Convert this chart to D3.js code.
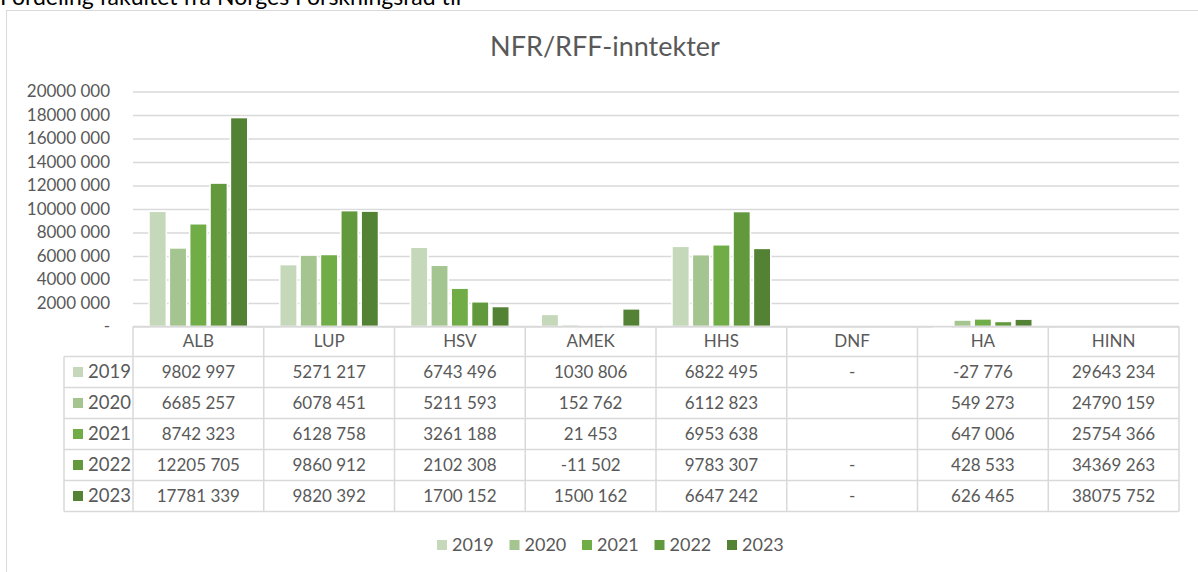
<!DOCTYPE html>
<html>
<head>
<meta charset="utf-8">
<script src="https://cdn.jsdelivr.net/npm/d3@7"></script>
<style>
  body { margin: 0; background: #fff; overflow: hidden; }
  text { font-family: Lato, "Open Sans", sans-serif; fill: #595959; }
</style>
</head>
<body>
<script>
// categories (faculties) and years
var categories = ["ALB", "LUP", "HSV", "AMEK", "HHS", "DNF", "HA", "HINN"];
var years = ["2019", "2020", "2021", "2022", "2023"];
var hiddenBars = ["HINN"]; // in the table, but not drawn as bars

// one array per year, in category order (null = empty cell)
var v2019 = [9802997, 5271217, 6743496, 1030806, 6822495, 0, -27776, 29643234];
var v2020 = [6685257, 6078451, 5211593, 152762, 6112823, null, 549273, 24790159];
var v2021 = [8742323, 6128758, 3261188, 21453, 6953638, null, 647006, 25754366];
var v2022 = [12205705, 9860912, 2102308, -11502, 9783307, 0, 428533, 34369263];
var v2023 = [17781339, 9820392, 1700152, 1500162, 6647242, 0, 626465, 38075752];
var seriesValues = [v2019, v2020, v2021, v2022, v2023];

var yTicks = [0, 2000000, 4000000, 6000000, 8000000, 10000000, 12000000, 14000000, 16000000, 18000000, 20000000];
var colors = ["#c5d8b9", "#a5c590", "#70ad47", "#63993d", "#548235"];

var width = 1198, height = 572;
var plotLeft = 133, plotRight = 1179, plotTop = 91.5, plotBottom = 326.5;
var rowH = 31, headerH = 30;

// number like Excel "# ##0" with only the last group split
function fmt(v) {
  if (v === null) return "";
  if (v === 0) return "-";
  var a = Math.abs(v), s = "";
  if (a >= 1000) s = Math.floor(a / 1000) + " " + String(a % 1000).padStart(3, "0");
  else s = String(a);
  return (v < 0 ? "-" : "") + s;
}

var svg = d3.select("body").append("svg")
  .attr("width", width)
  .attr("height", height);

// text above the chart, cut off at the top
svg.append("text")
  .attr("x", 0).attr("y", 5)
  .style("font-size", "23px")
  .style("fill", "#000")
  .text("Fordeling fakultet fra Norges Forskningsråd til");

// chart border
svg.append("rect")
  .attr("x", 6.5).attr("y", 10.5)
  .attr("width", 1300).attr("height", 700)
  .attr("fill", "none").attr("stroke", "#d9d9d9");

svg.append("text")
  .attr("x", 605).attr("y", 56)
  .attr("text-anchor", "middle")
  .style("font-size", "27px")
  .text("NFR/RFF-inntekter");

var x0 = d3.scaleBand().domain(categories).range([plotLeft, plotRight]);
var x1 = d3.scaleBand().domain(years).range([14.5, x0.bandwidth() - 14.5]);
var y = d3.scaleLinear().domain([0, 20000000]).range([plotBottom, plotTop]);

// gridlines
svg.append("g")
  .attr("transform", "translate(" + plotLeft + ",0)")
  .call(d3.axisLeft(y).tickValues(yTicks).tickSize(-(plotRight - plotLeft)).tickFormat(""))
  .call(function(g) { g.select(".domain").remove(); })
  .selectAll("line").attr("stroke", "#d9d9d9").attr("stroke-width", 1.5);

// y labels
svg.append("g")
  .attr("transform", "translate(110,0)")
  .call(d3.axisLeft(y).tickValues(yTicks).tickSize(0).tickPadding(0).tickFormat(fmt))
  .call(function(g) { g.select(".domain").remove(); })
  .selectAll("text")
  .style("font-size", "17px")
  .style("fill", "#595959");

// bars, with a thin white outline like Excel
years.forEach(function(yr, i) {
  var rows = categories.map(function(c, j) { return {cat: c, value: seriesValues[i][j]}; })
    .filter(function(d) { return hiddenBars.indexOf(d.cat) < 0 && d.value !== null; });
  svg.selectAll(".bar" + yr)
    .data(rows)
    .enter().append("rect")
    .attr("class", "bar" + yr)
    .attr("x", function(d) { return x0(d.cat) + x1(yr) + 1.5; })
    .attr("width", x1.bandwidth() - 3)
    .attr("y", function(d) { return y(Math.max(0, d.value)); })
    .attr("height", function(d) { return Math.abs(y(d.value) - y(0)); })
    .style("fill", colors[i])
    .style("stroke", "#fff")
    .style("stroke-width", 1.5);
});

// data table
var table = svg.append("g");
var tableLeft = 64;
var tableBottom = plotBottom + headerH + rowH * years.length;
var lineColor = "#d9d9d9";

// horizontal lines
table.append("line")
  .attr("x1", plotLeft).attr("x2", plotRight)
  .attr("y1", plotBottom).attr("y2", plotBottom)
  .attr("stroke", lineColor).attr("stroke-width", 1.5);
for (var r = 0; r <= years.length; r++) {
  var ly = plotBottom + headerH + r * rowH;
  table.append("line")
    .attr("x1", tableLeft).attr("x2", plotRight)
    .attr("y1", ly).attr("y2", ly)
    .attr("stroke", lineColor).attr("stroke-width", 1.5);
}
// vertical lines
table.append("line")
  .attr("x1", tableLeft).attr("x2", tableLeft)
  .attr("y1", plotBottom + headerH).attr("y2", tableBottom)
  .attr("stroke", lineColor).attr("stroke-width", 1.5);
categories.concat([null]).forEach(function(c) {
  var lx = c === null ? plotRight : x0(c);
  table.append("line")
    .attr("x1", lx).attr("x2", lx)
    .attr("y1", plotBottom).attr("y2", tableBottom)
    .attr("stroke", lineColor).attr("stroke-width", 1.5);
});

// header
table.selectAll(".head")
  .data(categories)
  .enter().append("text")
  .attr("x", function(d) { return x0(d) + x0.bandwidth() / 2; })
  .attr("y", plotBottom + headerH / 2)
  .attr("dy", "0.35em")
  .attr("text-anchor", "middle")
  .style("font-size", "17px")
  .text(function(d) { return d; });

years.forEach(function(yr, i) {
  var cy = plotBottom + headerH + i * rowH + rowH / 2;
  table.append("rect")
    .attr("x", 73).attr("y", cy - 5)
    .attr("width", 10).attr("height", 10)
    .style("fill", colors[i]);
  table.append("text")
    .attr("x", 88).attr("y", cy)
    .attr("dy", "0.35em")
    .style("font-size", "18.5px")
    .text(yr);
  table.selectAll(".cell" + yr)
    .data(seriesValues[i])
    .enter().append("text")
    .attr("x", function(d, j) { return x0(categories[j]) + x0.bandwidth() / 2; })
    .attr("y", cy)
    .attr("dy", "0.35em")
    .attr("text-anchor", "middle")
    .style("font-size", "17px")
    .text(function(d) { return fmt(d); });
});

// legend
var legend = svg.append("g").attr("transform", "translate(437,545)");
years.forEach(function(yr, i) {
  var g = legend.append("g").attr("transform", "translate(" + (i * 72.5) + ",0)");
  g.append("rect").attr("x", 0).attr("y", -5).attr("width", 10).attr("height", 10).style("fill", colors[i]);
  g.append("text").attr("x", 15).attr("y", 0).attr("dy", "0.35em").style("font-size", "18px").text(yr);
});
</script>
</body>
</html>
